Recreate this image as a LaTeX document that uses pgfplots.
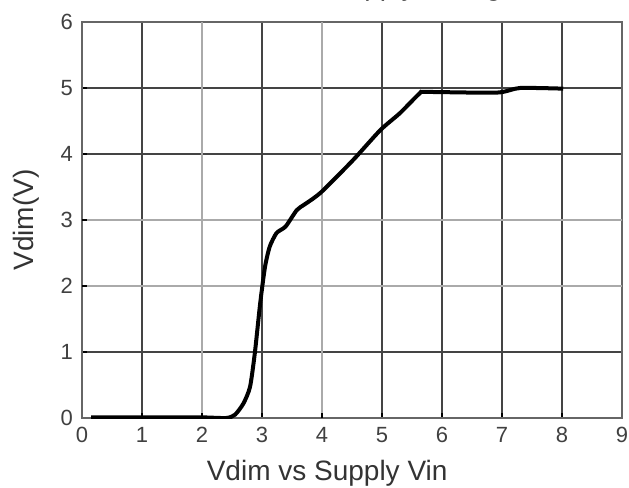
\documentclass[border=0pt]{standalone}
\usepackage{fontspec}
\setmainfont{Liberation Sans}
\usepackage{pgfplots}
\pgfplotsset{compat=1.18}

\definecolor{gridDark}{HTML}{444444}
\definecolor{gridLight}{HTML}{AAAAAA}
\definecolor{frameGray}{HTML}{666666}

\begin{document}
\begin{tikzpicture}
\begin{axis}[
  scale only axis,
  width=270pt, height=198pt,
  xmin=0, xmax=9, ymin=0, ymax=6,
  xtick={0,1,3,5,6,7,8,9},
  ytick={0,1,4,5,6},
  extra x ticks={2,4},
  extra y ticks={2,3},
  extra tick style={grid style={gridLight, line width=1.1pt}},
  grid=major,
  grid style={gridDark, line width=0.6pt},
  axis line style={frameGray, line width=1pt},
  tick style={black, line width=0.6pt},
  major tick length=2.5pt,
  tick pos=left,
  tick align=inside,
  /pgf/number format/assume math mode=true,
  tick label style={font=\fontsize{11}{13}\selectfont, text=black!75},
  xticklabel style={yshift=-1pt},
  yticklabel style={xshift=-1pt},
  title={Vdim vs Supply Voltage},
  title style={at={(axis description cs:0.533,1)}, anchor=base, yshift=7pt,
    font=\fontsize{14}{16}\selectfont, text=black!80},
  xlabel={Vdim vs Supply Vin},
  xlabel style={at={(axis description cs:0.454,0)}, anchor=base, yshift=-31pt,
    font=\fontsize{14}{16}\selectfont, text=black!80},
  ylabel={Vdim(V)},
  ylabel style={at={(axis description cs:0,0.5)}, anchor=center, yshift=28pt,
    font=\fontsize{14}{16}\selectfont, text=black!80},
]
\addplot[black, line width=2pt, smooth, tension=0.4] coordinates {
  (0.15,0.01) (1.0,0.01) (1.97,0.01) (2.4,0.0) (2.55,0.05) (2.69,0.22)
  (2.8,0.47) (2.88,0.98) (2.97,1.74) (3.05,2.29) (3.13,2.6) (3.24,2.80)
  (3.35,2.87) (3.41,2.92) (3.58,3.15) (3.7,3.23) (3.86,3.33) (4.02,3.45)
  (4.52,3.91) (4.97,4.36) (5.3,4.62) (5.63,4.92) (5.74,4.94) (6.91,4.93)
  (7.3,5.0) (8.02,4.99)
};
\coordinate (sw) at (rel axis cs:0,0);
\coordinate (ne) at (rel axis cs:1,1);
\end{axis}
\pgfresetboundingbox
\path ([xshift=-41pt,yshift=-34.5pt]sw) rectangle ([xshift=3.5pt,yshift=11pt]ne);
\end{tikzpicture}
\end{document}
